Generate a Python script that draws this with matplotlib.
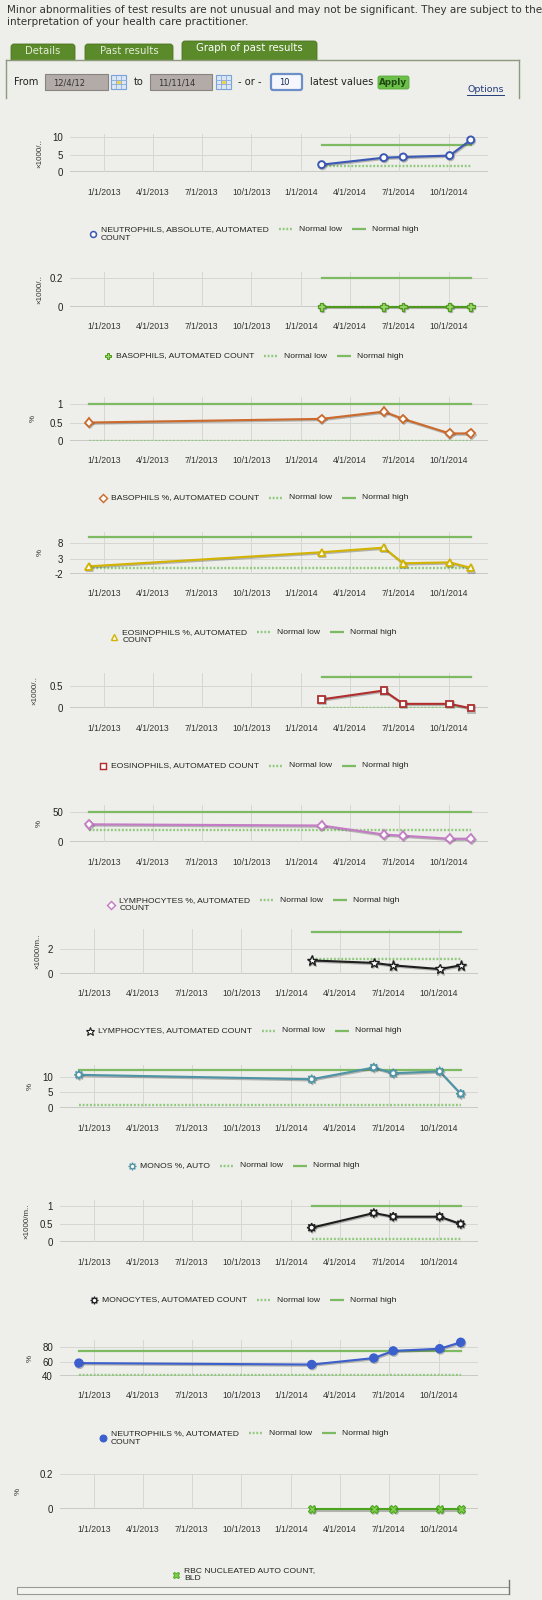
import matplotlib
matplotlib.use('Agg')
import matplotlib.pyplot as plt
import matplotlib.dates as mdates
import matplotlib.patheffects as pe
from matplotlib.patches import Rectangle, FancyBboxPatch
import pandas as pd

W, H = 542, 1600
BG = '#eeeeea'

# ---------------- data ----------------
dates_all = ['2012-12-04', '2014-02-08', '2014-06-03', '2014-07-09', '2014-10-03', '2014-11-11']
dates_2014 = ['2014-02-08', '2014-06-03', '2014-07-09', '2014-10-03', '2014-11-11']
x_tick_dates = ['2013-01-01', '2013-04-01', '2013-07-01', '2013-10-01',
                '2014-01-01', '2014-04-01', '2014-07-01', '2014-10-01']
x_tick_labels = ['1/1/2013', '4/1/2013', '7/1/2013', '10/1/2013',
                 '1/1/2014', '4/1/2014', '7/1/2014', '10/1/2014']
x_range = ['2012-10-30', '2014-12-13']

series_names = [
    'NEUTROPHILS, ABSOLUTE, AUTOMATED\nCOUNT',
    'BASOPHILS, AUTOMATED COUNT',
    'BASOPHILS %, AUTOMATED COUNT',
    'EOSINOPHILS %, AUTOMATED\nCOUNT',
    'EOSINOPHILS, AUTOMATED COUNT',
    'LYMPHOCYTES %, AUTOMATED\nCOUNT',
    'LYMPHOCYTES, AUTOMATED COUNT',
    'MONOS %, AUTO',
    'MONOCYTES, AUTOMATED COUNT',
    'NEUTROPHILS %, AUTOMATED\nCOUNT',
    'RBC NUCLEATED AUTO COUNT,\nBLD',
]
units = ['×1000/..', '×1000/..', '%', '%', '×1000/..', '%',
         '×1000/m..', '%', '×1000/m..', '%', '%']

neutrophils_abs = [2.2, 4.2, 4.4, 4.8, 9.3]
basophils_cnt = [0, 0, 0, 0, 0]
basophils_pct = [0.5, 0.6, 0.8, 0.6, 0.2, 0.2]
eosinophils_pct = [0.5, 5.1, 6.6, 1.5, 1.8, 0.0]
eosinophils_cnt = [0.2, 0.4, 0.1, 0.1, 0.0]
lymphocytes_pct = [30, 28, 13, 11, 6, 6]
lymphocytes_cnt = [1.1, 0.9, 0.7, 0.4, 0.7]
monos_pct = [10.6, 9.2, 12.9, 11.1, 11.7, 4.6]
monocytes_cnt = [0.4, 0.8, 0.7, 0.7, 0.5]
neutrophils_pct = [58, 56, 65, 75, 78, 87]
rbc_nucleated = [0, 0, 0, 0, 0]

series_values = [neutrophils_abs, basophils_cnt, basophils_pct, eosinophils_pct,
                 eosinophils_cnt, lymphocytes_pct, lymphocytes_cnt, monos_pct,
                 monocytes_cnt, neutrophils_pct, rbc_nucleated]
series_dates = [dates_2014, dates_2014, dates_all, dates_all, dates_2014, dates_all,
                dates_2014, dates_all, dates_2014, dates_all, dates_2014]
normal_low = [1.8, 0, 0, 0, 0, 20, 1.2, 1, 0.1, 42, None]
normal_high = [7.8, 0.2, 1, 10, 0.7, 50, 3.4, 12, 1.0, 75, None]

y_ticks = [[0, 5, 10], [0, 0.2], [0, 0.5, 1], [-2, 3, 8], [0, 0.5], [0, 50],
           [0, 2], [0, 5, 10], [0, 0.5, 1], [40, 60, 80], [0, 0.2]]
y_tick_labels = [['0', '5', '10'], ['0', '0.2'], ['0', '0.5', '1'], ['-2', '3', '8'],
                 ['0', '0.5'], ['0', '50'], ['0', '2'], ['0', '5', '10'],
                 ['0', '0.5', '1'], ['40', '60', '80'], ['0', '0.2']]
y_limits = [(0, 11), (0, 0.2414), (0, 1.21), (-2, 11.8), (0, 0.8), (0, 62.2),
            (0, 3.62), (0, 13.7), (0, 1.156), (40, 90.2), (0, 0.2)]

# ---------------- layout / style ----------------
boxes = [(70, 488, 134, 172.3), (70, 488, 271.7, 306.7), (70, 488, 396.7, 440.7),
         (70, 488, 531.7, 574), (70, 488, 672.7, 708.3), (70, 488, 805, 842.3),
         (60, 478, 929.3, 974), (60, 478, 1065, 1108.3), (60, 478, 1200, 1242.3),
         (60, 478, 1340, 1376), (60, 478, 1474, 1509.3)]
ylabel_x = [40, 40, 33, 40, 35, 39, 38, 30, 27, 30, 18]
legend_y = [229.3, 356, 497.7, 632.3, 765.7, 900, 1031, 1165.7, 1300, 1433.3, 1570]
legend_cx = [253.5] * 6 + [243.5] * 5

styles = [
    dict(color='#3a58b4', marker='o', mfc='white', ms=5, mew=1.4),
    dict(color='#4f9a1e', marker='P', mfc='#9bd66a', ms=5.5, mew=0.9),
    dict(color='#cc6a2c', marker='D', mfc='white', ms=4.3, mew=1.3),
    dict(color='#d2b400', marker='^', mfc='white', ms=5, mew=1.3),
    dict(color='#b02e2e', marker='s', mfc='white', ms=4.6, mew=1.3),
    dict(color='#c47cc6', marker='D', mfc='white', ms=4.3, mew=1.3),
    dict(color='#1e1e1e', marker='*', mfc='white', ms=7.5, mew=1.0),
    dict(color='#4e94a6', marker=(8, 1, 0), mfc='white', ms=6.5, mew=1.0),
    dict(color='#1e1e1e', marker=(8, 1, 0), mfc='white', ms=6.5, mew=1.0),
    dict(color='#3b5fcc', marker='o', mfc='#3b5fcc', ms=5.8, mew=1.0),
    dict(color='#4aa41e', marker='X', mfc='#7fcf4a', ms=5.5, mew=0.8),
]
LOW_C = '#8fca7c'
HIGH_C = '#7dbb62'
UI_FONT = ['DejaVu Sans']
CHART_FONT = ['Liberation Sans', 'DejaVu Sans']
FS_X, FS_Y, FS_LEG, FS_UNIT = 6.2, 7.0, 6.1, 5.8

fig = plt.figure(figsize=(W / 100, H / 100), dpi=100, facecolor=BG)
ov = fig.add_axes([0, 0, 1, 1], zorder=0)
ov.set_xlim(0, W)
ov.set_ylim(H, 0)
ov.axis('off')
ov.set_facecolor(BG)
renderer = fig.canvas.get_renderer()

# ---------------- header ----------------
hdr = dict(family=UI_FONT, fontsize=7.5, color='#333333', va='center', ha='left')
ov.text(7, 9.7, 'Minor abnormalities of test results are not unusual and may not be significant. '
        'They are subject to the', **hdr)
ov.text(7, 22, 'interpretation of your health care practitioner.', **hdr)

TAB_C = '#5b8a2a'
for (x0, x1, y0, label, tc) in [(8, 78, 44, 'Details', '#e4ecd8'),
                                (82, 176, 44, 'Past results', '#e4ecd8'),
                                (179, 320, 41, 'Graph of past results', '#ffffff')]:
    ov.add_patch(FancyBboxPatch((x0 + 3, y0), x1 - x0 - 6, 59 - y0 + 4,
                                boxstyle='round,pad=0,rounding_size=3',
                                fc=TAB_C, ec='#4c7420', lw=0.6, zorder=2))
    ov.text((x0 + x1) / 2, y0 + 7, label, family=UI_FONT, fontsize=7.3, color=tc,
            ha='center', va='center', zorder=3)
ov.add_patch(Rectangle((0, 59.5), W, 60, fc=BG, ec='none', zorder=2.5))
BOX_C = '#8d9b7c'
ov.plot([6, 519], [59.5, 59.5], color=BOX_C, lw=1.0, zorder=4)
ov.plot([6, 6], [59.5, 98], color=BOX_C, lw=1.0, zorder=4)
ov.plot([519, 519], [59.5, 98], color=BOX_C, lw=1.0, zorder=4)

ui = dict(family=UI_FONT, fontsize=7.1, color='#222222', va='center', ha='left', zorder=5)
ov.text(14, 82, 'From', **ui)
ov.text(134, 82, 'to', **ui)
ov.text(238, 82, '- or -', **ui)
ov.text(310, 82, 'latest values', **ui)
for (x0, x1, txt) in [(45, 108, '12/4/12'), (150, 212, '11/11/14')]:
    ov.add_patch(Rectangle((x0, 74), x1 - x0, 16, fc='#b3aba7', ec='#8a8480', lw=0.8, zorder=5))
    ov.text(x0 + 8, 82.5, txt, family=UI_FONT, fontsize=6.0, color='#333333',
            va='center', ha='left', zorder=6)
for x0 in [111, 216]:
    ov.add_patch(Rectangle((x0, 75), 15, 14, fc='#dce7f6', ec='#7aa2d6', lw=0.8, zorder=5))
    for k in range(1, 3):
        ov.plot([x0 + 5 * k, x0 + 5 * k], [75, 89], color='#86aadb', lw=0.6, zorder=6)
        ov.plot([x0, x0 + 15], [75 + 4.67 * k, 75 + 4.67 * k], color='#86aadb', lw=0.6, zorder=6)
    ov.add_patch(Rectangle((x0 + 6, 80.5), 3.5, 3.5, fc='#f2d24a', ec='none', zorder=7))
ov.add_patch(FancyBboxPatch((271, 74), 31, 16, boxstyle='round,pad=0,rounding_size=2',
                            fc='#f5f7fc', ec='#6d8fc8', lw=1.6, zorder=5))
ov.text(279, 82.5, '10', family=UI_FONT, fontsize=6.0, color='#1a2a55',
        va='center', ha='left', zorder=6)
ov.add_patch(FancyBboxPatch((378, 76), 31, 13, boxstyle='round,pad=0,rounding_size=2',
                            fc='#6cc04a', ec='#5aa83a', lw=0.6, zorder=5))
ov.text(393.5, 82.5, 'Apply', family=UI_FONT, fontsize=6.3, weight='bold', color='#1e4a12',
        va='center', ha='center', zorder=6)
opt = ov.text(467, 89.5, 'Options', family=UI_FONT, fontsize=6.8, color='#233b7c',
              va='center', ha='left', zorder=6)
ow = opt.get_window_extent(renderer).width
ov.plot([467, 467 + ow], [94.5, 94.5], color='#233b7c', lw=0.7, zorder=6)

# bottom frame
ov.add_patch(Rectangle((17, 1586.5), 492, 7, fc='#f3f3ef', ec='#9a9a92', lw=0.8, zorder=2))
ov.plot([509, 509], [1580, 1594], color='#777770', lw=1.0, zorder=3)

# ---------------- charts ----------------
xt = mdates.date2num(pd.to_datetime(x_tick_dates))
xr = mdates.date2num(pd.to_datetime(x_range))
shadow = [pe.SimpleLineShadow(offset=(0.6, -0.9), shadow_color='#444444', alpha=0.35),
          pe.Normal()]

for i in range(len(series_values)):
    l, r, t, b = boxes[i]
    ax = fig.add_axes([l / W, 1 - b / H, (r - l) / W, (b - t) / H], zorder=1)
    ax.set_facecolor('none')
    ax.set_xlim(xr[0], xr[1])
    ax.set_ylim(*y_limits[i])
    for s in ax.spines.values():
        s.set_visible(False)
    ax.set_xticks(xt)
    ax.set_xticklabels(x_tick_labels, family=CHART_FONT, fontsize=FS_X, color='#333333')
    ax.set_yticks(y_ticks[i])
    ax.set_yticklabels(y_tick_labels[i], family=CHART_FONT, fontsize=FS_Y, color='#222222')
    ax.tick_params(axis='x', length=0, pad=11.0)
    ax.tick_params(axis='y', length=0, pad=5)
    ax.grid(True, color='#d6d6d2', lw=0.7, zorder=0)
    ax.axhline(y_limits[i][0], color='#333333', lw=1.0, zorder=1)

    d = mdates.date2num(pd.to_datetime(series_dates[i]))
    st = styles[i]
    if normal_low[i] is not None:
        ax.plot([d[0], d[-1]], [normal_low[i]] * 2, color=LOW_C, lw=1.7,
                ls=(0, (0.8, 0.75)), zorder=2, solid_capstyle='butt')
        ax.plot([d[0], d[-1]], [normal_high[i]] * 2, color=HIGH_C, lw=1.6, zorder=2)
    ax.plot(d, series_values[i], color=st['color'], lw=1.5, marker=st['marker'],
            mfc=st['mfc'], mec=st['color'], ms=st['ms'], mew=st['mew'],
            zorder=4, clip_on=False, path_effects=shadow)

    ov.text(ylabel_x[i], (t + b) / 2, units[i], rotation=90, family=CHART_FONT,
            fontsize=FS_UNIT, color='#333333', ha='center', va='center')

    # legend
    ly = legend_y[i]
    nlines = series_names[i].count('\n') + 1
    by = ly + (nlines - 1) * 4.7
    arts = []
    x = 0.0
    m, = ov.plot([x + 4], [by], ls='none', marker=st['marker'], mfc=st['mfc'],
                 mec=st['color'], ms=st['ms'] * 0.85, mew=st['mew'] * 0.8)
    arts.append(('line', m, [x + 4]))
    x += 12
    tx = ov.text(x, by, series_names[i], family=CHART_FONT, fontsize=FS_LEG, color='#222222',
                 ha='left', va='center', linespacing=1.2)
    arts.append(('text', tx, (x, by)))
    x += tx.get_window_extent(renderer).width
    if normal_low[i] is not None:
        for (lab, kw) in [('Normal low', dict(color=LOW_C, lw=1.7, ls=(0, (0.8, 0.75)))),
                          ('Normal high', dict(color=HIGH_C, lw=1.6))]:
            x += 10
            ln, = ov.plot([x, x + 14], [ly, ly], solid_capstyle='butt', **kw)
            arts.append(('line', ln, [x, x + 14]))
            x += 20
            tt = ov.text(x, ly, lab, family=CHART_FONT, fontsize=FS_LEG, color='#222222',
                         ha='left', va='center')
            arts.append(('text', tt, (x, ly)))
            x += tt.get_window_extent(renderer).width
    shift = legend_cx[i] - x / 2
    for kind, a, pos in arts:
        if kind == 'line':
            a.set_xdata([p + shift for p in pos])
        else:
            a.set_position((pos[0] + shift, pos[1]))

fig.savefig('out.png', dpi=100, facecolor=BG)
